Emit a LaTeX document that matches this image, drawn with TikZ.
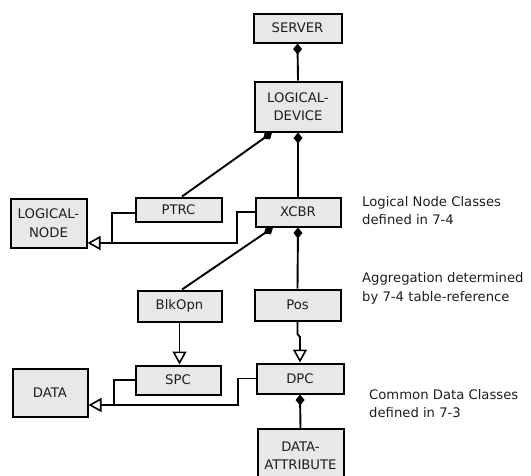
\documentclass[tikz,border=0pt]{standalone}
\usepackage{fontspec}
\setmainfont{DejaVu Sans}
\usetikzlibrary{arrows.meta}
\definecolor{boxgray}{RGB}{232,232,232}
\definecolor{inkgray}{RGB}{30,30,30}

\begin{document}
\begin{tikzpicture}[x=1pt, y=-1pt,
  cls/.style={draw=black, line width=2pt, fill=boxgray, inner sep=0pt,
    align=center, text=inkgray, font=\fontsize{13.2pt}{18.5pt}\selectfont},
  note/.style={anchor=west, align=left, inner sep=0pt, text=inkgray,
    font=\fontsize{13.2pt}{18.5pt}\selectfont},
  conn/.style={line width=1.9pt},
  agg/.style={conn, {Diamond[length=11pt,width=9pt]}-},
  inh/.style={conn, -{Triangle[length=13pt,width=14pt,fill=white,line width=1.6pt]}}
]
\useasboundingbox (0,0) rectangle (531,475);
\clip (0,0) rectangle (531,475);

% classes
\node[cls, minimum width=88pt, minimum height=29pt] (server) at (297.5,28) {SERVER};
\node[cls, minimum width=87pt, minimum height=50pt] (ld) at (298,106.5) {LOGICAL-\\DEVICE};
\node[cls, minimum width=76pt, minimum height=49pt] (lnode) at (48.5,223) {LOGICAL-\\NODE};
\node[cls, minimum width=86pt, minimum height=24pt] (ptrc) at (178.5,209.5) {PTRC};
\node[cls, minimum width=85pt, minimum height=29pt] (xcbr) at (298,212) {XCBR};
\node[cls, minimum width=84pt, minimum height=31pt] (blk) at (179.5,306) {BlkOpn};
\node[cls, minimum width=86pt, minimum height=31pt] (pos) at (297.5,305) {Pos};
\node[cls, minimum width=85pt, minimum height=29pt] (spc) at (178,380) {SPC};
\node[cls, minimum width=87pt, minimum height=30pt] (dpc) at (300,378.5) {DPC};
\node[cls, minimum width=75pt, minimum height=48pt] (data) at (50,392.5) {DATA};
\node[cls, minimum width=86pt, minimum height=54pt] (da) at (300.5,456) {DATA-\\ATTRIBUTE};

% side notes
\node[note] (n1) at (362,210.5) {Logical Node Classes\\defined in 7-4};
\node[note] (n2) at (362,288.5) {Aggregation determined\\by 7-4 table-reference};
\node[note] (n3) at (369,403.5) {Common Data Classes\\defined in 7-3};

% aggregation (diamond at the owner)
\draw[agg] (server.south) -- (ld.north);
\draw[agg] ([xshift=-26pt]ld.south) -- ([xshift=3.5pt]ptrc.north);
\draw[agg] (ld.south) -- (xcbr.north);
\draw[agg] ([xshift=-25pt]xcbr.south) -- ([xshift=2.5pt]blk.north);
\draw[agg] (xcbr.south) -- (pos.north);
\draw[agg] (dpc.south) -- (da.north);

% inheritance towards LOGICAL-NODE
\coordinate (lnbus) at (112,243);
\coordinate (xcbend) at (237,243);
\draw[inh] ([yshift=-3.5pt]ptrc.west) -| (lnbus) -- (lnode.east |- lnbus);
\draw[conn] (xcbr.west) -| (xcbend) -- (lnbus);

% inheritance towards DATA
\coordinate (dbus) at (114,405);
\coordinate (dpcbend) at (238,405);
\draw[inh] (spc.west) -| (dbus) -- (data.east |- dbus);
\draw[conn] (dpc.west) -| (dpcbend) -- (dbus);

% data objects typed by common data classes
\draw[inh] (blk.south) -- (blk.south |- spc.north);
\draw[inh] (pos.south) -- (pos.south |- 0,334) -- (dpc.north |- 0,337) -- (dpc.north);
\end{tikzpicture}
\end{document}
